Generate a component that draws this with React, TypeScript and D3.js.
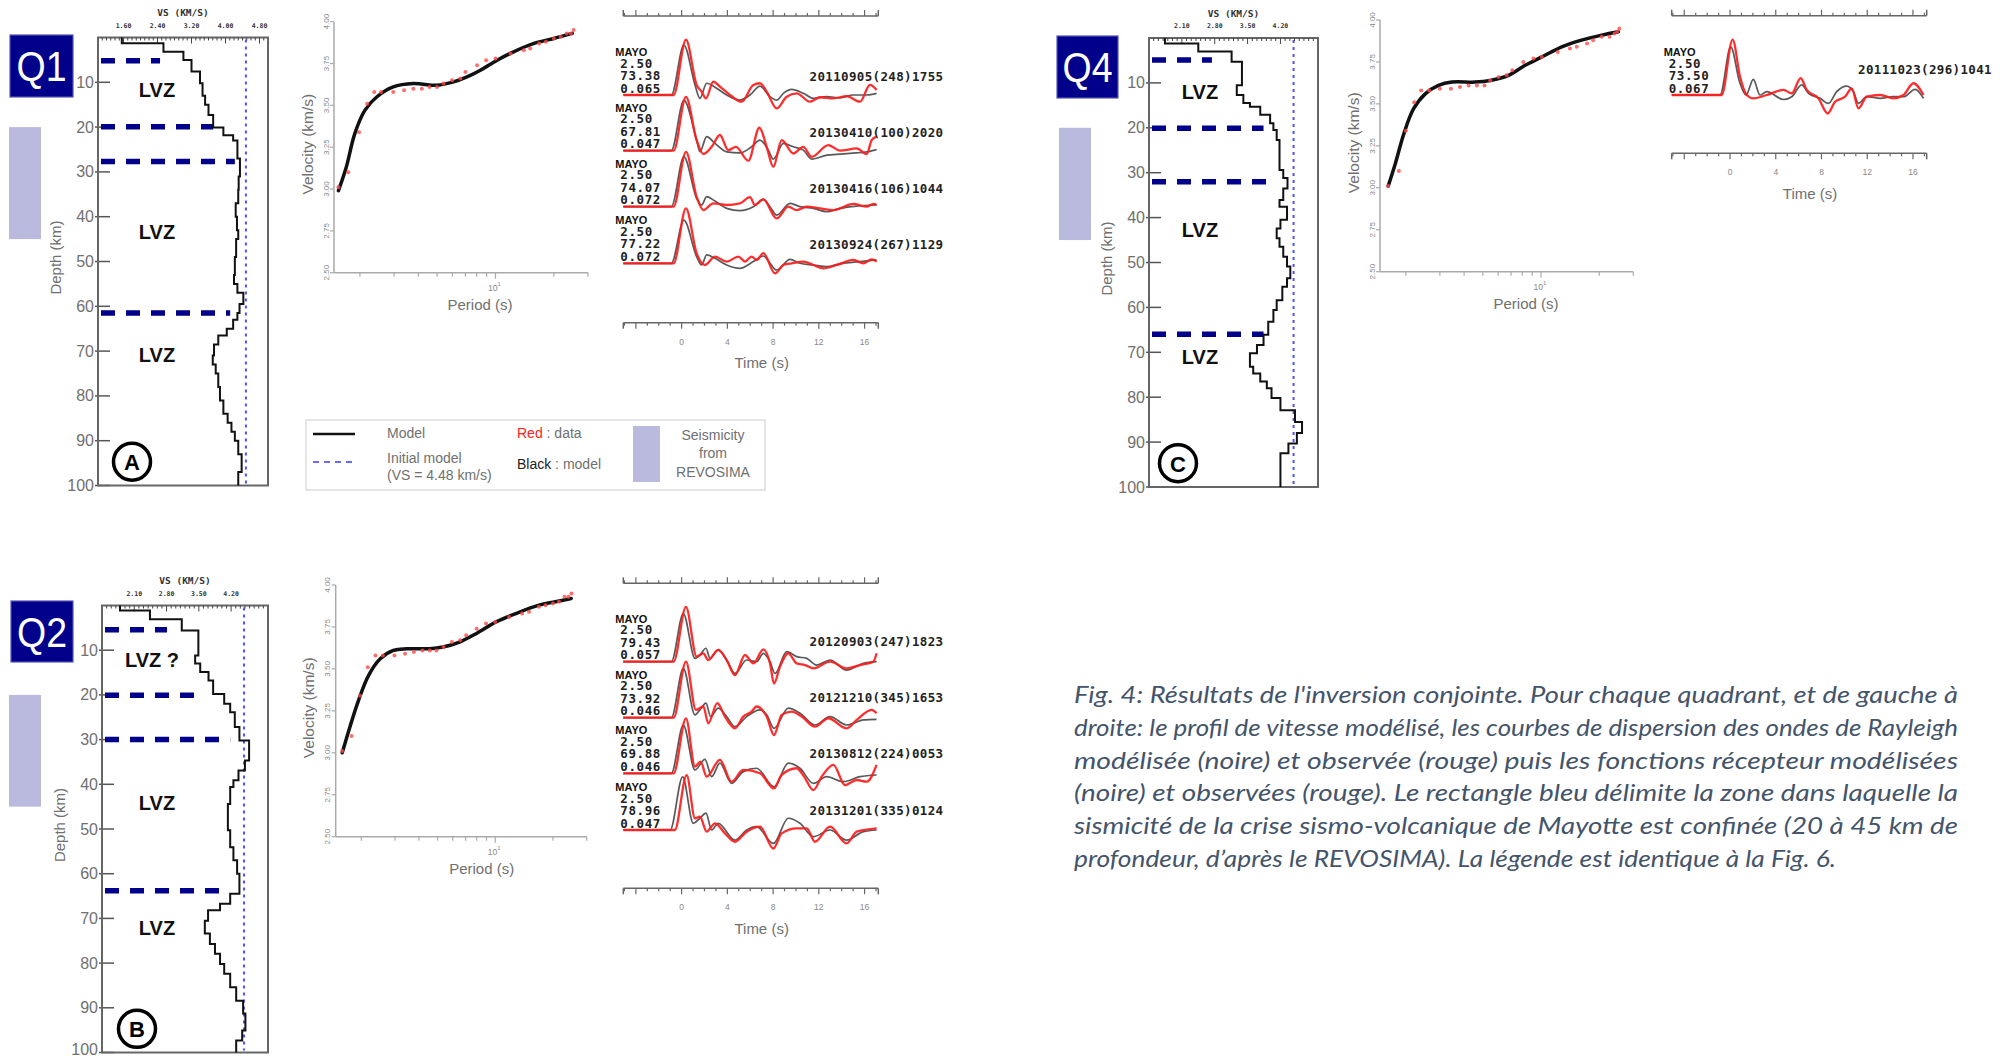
import React from "react";
import * as d3 from "d3";

// ---------------- DATA ----------------
const DEPTH_TICKS = [10, 20, 30, 40, 50, 60, 70, 80, 90, 100];
const VS_LABELS_Q1 = [1.6, 2.4, 3.2, 4.0, 4.8];
const VS_LABELS_Q24 = [2.1, 2.8, 3.5, 4.2];
const INITIAL_VS = 4.48;
const SEISMICITY = [20, 45];

const Q1_DEPTH = [0, 1.3, 3.2, 5, 7.6, 10.2, 13, 15, 17.3, 20.1, 21.8, 23, 27, 31, 34, 37, 40, 43, 45, 49, 53, 55, 57, 59.5, 61.5, 63, 65, 66.5, 68.5, 71, 73, 75, 78, 81, 84, 86, 88, 90, 93, 97];
const Q1_VS = [1.56, 2.54, 3.01, 3.2, 3.4, 3.46, 3.52, 3.6, 3.71, 3.95, 4.18, 4.28, 4.34, 4.31, 4.3, 4.24, 4.27, 4.3, 4.25, 4.22, 4.2, 4.28, 4.42, 4.33, 4.28, 4.18, 4.03, 3.83, 3.73, 3.7, 3.77, 3.83, 3.87, 3.95, 4.05, 4.14, 4.22, 4.3, 4.38, 4.3];
const Q2_DEPTH = [0, 1.1, 3.1, 5.6, 11.2, 13.0, 14.9, 16.8, 19.8, 22, 23.9, 27.2, 30.2, 34.7, 36.9, 39.1, 40.6, 44.4, 50.3, 54.1, 57, 60, 64.5, 66.7, 68.2, 70.5, 73.4, 75.7, 77.9, 80.2, 82.4, 85.4, 88.4, 91.3, 95.1, 97.3];
const Q2_VS = [1.79, 2.44, 3.13, 3.49, 3.42, 3.53, 3.71, 3.81, 4.05, 4.18, 4.28, 4.38, 4.59, 4.5, 4.36, 4.25, 4.18, 4.13, 4.18, 4.25, 4.33, 4.38, 4.18, 3.96, 3.7, 3.63, 3.74, 3.85, 3.96, 4.05, 4.18, 4.31, 4.46, 4.51, 4.44, 4.31];
const Q4_DEPTH = [0, 1.2, 3.0, 5.3, 10.5, 12.7, 14.5, 15.3, 17.1, 19, 20.5, 22.7, 29.4, 31.2, 33.5, 36.1, 37.6, 40.5, 42.4, 44.6, 46.5, 48.7, 50.9, 53.5, 55.4, 58.4, 60.6, 63.2, 66.1, 68.4, 70.2, 73.2, 74.7, 76.5, 78, 80.2, 82.9, 85.5, 88, 90.3, 92.5];
const Q4_VS = [1.74, 2.45, 3.16, 3.38, 3.27, 3.41, 3.55, 3.77, 3.98, 4.05, 4.12, 4.18, 4.26, 4.35, 4.26, 4.18, 4.34, 4.2, 4.12, 4.18, 4.26, 4.34, 4.41, 4.34, 4.24, 4.12, 4.05, 3.94, 3.84, 3.7, 3.55, 3.62, 3.77, 3.91, 4.01, 4.2, 4.51, 4.66, 4.55, 4.37, 4.2];

const Q1_LVZ_DEPTH = [5.2, 19.9, 27.7, 61.5];
const Q1_LVZ_END = [2.46, 3.71, 4.22, 4.11];
const Q2_LVZ_DEPTH = [5.4, 20.1, 30, 63.8];
const Q2_LVZ_END = [2.81, 3.59, 4.18, 4.13];
const Q4_LVZ_DEPTH = [4.9, 20.1, 32, 66];
const Q4_LVZ_END = [2.74, 3.84, 4.12, 3.84];
const Q1_LVZ_TEXT = ["LVZ", "LVZ", "LVZ"];
const Q1_LVZ_TEXT_DEPTH = [11.7, 43.4, 70.8];
const Q2_LVZ_TEXT = ["LVZ ?", "LVZ", "LVZ"];
const Q2_LVZ_TEXT_DEPTH = [12.2, 44.2, 72.1];
const Q4_LVZ_TEXT = ["LVZ", "LVZ", "LVZ"];
const Q4_LVZ_TEXT_DEPTH = [12.1, 42.8, 71.1];

const PERIOD_DOMAIN = [1.47, 30];
const PERIOD_TICKS = [2, 3, 4, 5, 6, 7, 8, 9, 10, 20, 30];
const VEL_TICKS = [2.5, 2.75, 3.0, 3.25, 3.5, 3.75, 4.0];

const Q1_MODEL_P = [1.55, 1.7, 1.88, 2.12, 2.44, 2.97, 3.77, 4.99, 6.08, 7.13, 8.36, 10.2, 12.4, 15.8, 20.0, 24.9];
const Q1_MODEL_V = [2.99, 3.13, 3.33, 3.47, 3.55, 3.61, 3.63, 3.62, 3.64, 3.67, 3.71, 3.77, 3.82, 3.87, 3.9, 3.93];
const Q1_DATA_P = [1.55, 1.74, 1.98, 2.18, 2.37, 2.57, 2.97, 3.38, 3.77, 4.17, 4.57, 4.99, 5.4, 5.97, 6.59, 7.0, 8.04, 8.95, 10, 11.96, 14.0, 15.1, 16.8, 18.2, 20.0, 21.7, 23.3, 24.5, 25.3];
const Q1_DATA_V = [3.01, 3.1, 3.34, 3.51, 3.58, 3.58, 3.58, 3.59, 3.6, 3.6, 3.61, 3.61, 3.63, 3.65, 3.66, 3.7, 3.74, 3.77, 3.78, 3.81, 3.83, 3.84, 3.87, 3.88, 3.9, 3.91, 3.93, 3.93, 3.95];
const Q2_MODEL_P = [1.59, 1.75, 1.93, 2.18, 2.51, 2.94, 3.45, 4.55, 5.33, 6.51, 7.94, 10.1, 12.8, 16.9, 20.6, 24.9];
const Q2_MODEL_V = [3.0, 3.16, 3.31, 3.46, 3.56, 3.61, 3.62, 3.62, 3.63, 3.66, 3.71, 3.78, 3.83, 3.88, 3.9, 3.92];
const Q2_DATA_P = [1.59, 1.78, 1.97, 2.16, 2.37, 2.59, 2.98, 3.38, 3.76, 4.17, 4.55, 4.93, 5.37, 5.94, 6.56, 7.05, 8.0, 8.95, 10, 11.8, 13.8, 15.0, 16.9, 18.3, 20.0, 21.5, 23.0, 24.1, 25.0];
const Q2_DATA_V = [3.01, 3.1, 3.34, 3.51, 3.58, 3.58, 3.58, 3.59, 3.6, 3.61, 3.61, 3.61, 3.63, 3.66, 3.67, 3.7, 3.74, 3.77, 3.78, 3.81, 3.83, 3.84, 3.87, 3.88, 3.89, 3.9, 3.93, 3.93, 3.95];
const Q4_MODEL_P = [1.62, 1.77, 1.95, 2.19, 2.52, 2.95, 3.46, 4.56, 5.46, 6.79, 8.28, 10.1, 12.8, 16.2, 20.6, 25.1];
const Q4_MODEL_V = [3.01, 3.15, 3.32, 3.47, 3.56, 3.61, 3.63, 3.63, 3.64, 3.67, 3.73, 3.78, 3.84, 3.88, 3.91, 3.93];
const Q4_DATA_P = [1.62, 1.84, 2.0, 2.21, 2.4, 2.64, 3.0, 3.42, 3.81, 4.22, 4.66, 5.1, 5.46, 6.03, 6.64, 7.1, 8.1, 9.14, 10.1, 12.2, 14.1, 15.3, 17.3, 18.6, 20.6, 22.6, 24.0, 24.8, 25.4];
const Q4_DATA_V = [3.01, 3.1, 3.34, 3.51, 3.58, 3.58, 3.59, 3.59, 3.6, 3.61, 3.61, 3.61, 3.64, 3.66, 3.67, 3.7, 3.75, 3.77, 3.78, 3.81, 3.83, 3.84, 3.86, 3.88, 3.9, 3.9, 3.92, 3.93, 3.95];

const TIME_DOMAIN = [-5.1, 17.2];
const TIME_LABELS = [0, 4, 8, 12, 16];

const Q1_RF_RED = [
  [[-5.1, 0], [-0.7, 0], [0.38, 0.99], [1.31, 0.18], [1.75, 0.06], [2.13, -0.06], [2.77, 0.24], [3.35, 0.15], [4.23, 0], [5.25, -0.12], [6.27, 0.18], [6.85, 0.21], [7.44, 0.06], [8.31, -0.24], [9.19, -0.03], [10.06, 0.03], [11.23, -0.12], [12.1, -0.04], [13.27, -0.06], [14.43, -0.02], [15.6, -0.12], [16.47, 0.18], [17.05, 0.09]],
  [[-5.1, 0], [-0.7, 0], [0.38, 0.96], [1.31, 0.19], [1.9, -0.06], [2.63, 0.07], [3.35, 0.28], [4.08, 0.01], [4.75, 0.07], [5.83, -0.18], [6.8, 0.41], [7.44, 0.07], [8.02, -0.29], [8.75, 0.19], [9.77, -0.05], [10.64, 0.07], [11.37, -0.11], [12.83, 0.1], [13.86, 0], [15.31, 0.04], [16.19, -0.06], [16.62, 0.19], [17.05, 0.25]],
  [[-5.1, 0], [-0.7, 0], [0.38, 0.98], [1.31, 0.18], [1.9, -0.06], [2.77, 0.06], [3.94, 0.03], [5.1, 0.06], [5.98, 0.17], [6.41, 0.03], [7.15, 0.13], [8.31, -0.21], [9.33, 0], [10.06, -0.06], [10.94, 0], [12.1, -0.03], [13.27, -0.06], [15.02, 0.05], [16.19, 0], [16.77, 0.05], [17.05, 0.03]],
  [[-5.1, 0], [-0.7, 0], [0.38, 0.98], [1.31, 0.18], [2.04, -0.03], [2.92, 0.12], [3.94, 0.03], [4.96, 0.12], [5.54, 0.03], [6.12, 0.12], [6.56, 0.06], [7.15, 0.18], [8.17, -0.18], [8.9, -0.03], [9.62, 0], [10.64, 0.03], [11.52, -0.03], [12.4, -0.09], [13.56, -0.03], [15.02, 0.06], [15.89, 0], [16.62, 0.07], [17.05, 0.03]],
];
const Q1_RF_BLACK = [
  [[-5.1, 0], [-0.9, 0], [0.2, 0.89], [1.17, 0.18], [1.6, -0.06], [2.19, 0.21], [2.92, 0.14], [3.94, 0], [5.1, -0.09], [5.98, 0], [6.85, 0.16], [7.73, -0.03], [8.31, -0.09], [8.9, 0.03], [9.62, 0.1], [10.64, 0.03], [11.52, -0.06], [12.69, -0.03], [13.86, -0.05], [15.02, 0], [16.19, 0], [17.05, 0.03]],
  [[-5.1, 0], [-0.9, 0], [0.2, 0.9], [1.31, 0.19], [1.6, -0.02], [2.19, 0.25], [2.92, 0.13], [3.94, -0.02], [5.1, -0.04], [6.12, 0.07], [6.85, 0.19], [7.58, 0.01], [8.02, -0.15], [8.9, 0.13], [9.77, 0.07], [10.64, 0.01], [11.37, -0.15], [12.69, -0.08], [13.86, -0.06], [15.31, -0.04], [16.19, -0.02], [17.05, 0.02]],
  [[-5.1, 0], [-0.9, 0], [0.2, 0.89], [1.31, 0.15], [1.75, 0.03], [2.19, 0.18], [2.92, 0.1], [3.94, -0.03], [5.1, -0.07], [6.27, 0], [7.15, 0.13], [7.73, 0], [8.31, -0.15], [9.48, 0.06], [10.35, 0], [11.52, -0.03], [12.69, -0.09], [13.86, -0.03], [15.31, 0.01], [17.05, 0.03]],
  [[-5.1, 0], [-0.9, 0], [0.2, 0.77], [1.31, 0.12], [1.75, -0.03], [2.19, 0.15], [2.92, 0.09], [3.94, -0.03], [5.1, -0.09], [6.27, 0.03], [7.15, 0.13], [7.73, 0], [8.31, -0.12], [9.48, 0.07], [10.35, 0], [11.52, -0.03], [12.69, -0.06], [13.86, -0.01], [15.6, 0.03], [17.05, 0.06]],
];
const Q2_RF_RED = [
  [[-5.1, 0], [-0.7, 0], [0.38, 0.98], [1.31, 0.09], [1.9, 0.15], [2.33, 0.03], [3.2, 0.21], [3.94, 0.03], [4.66, -0.24], [5.54, 0.12], [6.27, -0.03], [7.15, 0.22], [7.73, -0.03], [8.08, -0.39], [8.6, -0.09], [9.33, 0.15], [10.06, -0.03], [10.79, -0.06], [11.52, -0.12], [12.98, 0], [14.43, -0.12], [15.6, -0.06], [16.77, 0], [17.05, 0.15]],
  [[-5.1, 0], [-0.7, 0], [0.38, 1.0], [1.25, 0.14], [1.9, 0.2], [2.33, -0.1], [3.12, 0.26], [3.79, 0.02], [4.66, -0.19], [5.39, 0.02], [6.12, 0.11], [6.56, 0.2], [7.44, 0.02], [8.08, -0.31], [8.75, 0.05], [9.62, 0.11], [10.5, 0.02], [11.66, -0.16], [12.83, -0.01], [14.43, -0.19], [15.31, -0.04], [16.62, 0.14], [17.05, 0.08]],
  [[-5.1, 0], [-0.7, 0], [0.38, 0.98], [1.17, 0.12], [1.66, 0.21], [2.19, -0.06], [3.35, 0.24], [4.37, -0.15], [5.39, 0.06], [6.85, 0], [8.08, -0.27], [8.75, -0.03], [10.06, 0.09], [10.71, -0.06], [11.52, -0.3], [12.25, -0.06], [13.27, 0.15], [14.29, -0.21], [15.31, -0.12], [16.19, -0.15], [17.05, 0.15]],
  [[-5.1, 0], [-0.6, 0], [0.44, 0.98], [1.17, 0.21], [1.6, 0.24], [2.19, -0.03], [2.92, 0.12], [3.79, -0.06], [4.66, -0.21], [5.69, -0.03], [6.85, 0.06], [8.02, -0.33], [8.75, -0.06], [10.06, 0.03], [10.94, 0.03], [11.66, -0.21], [12.98, 0.06], [14.43, -0.24], [15.31, -0.03], [17.05, 0.03]],
];
const Q2_RF_BLACK = [
  [[-5.1, 0], [-0.9, 0], [0.15, 0.86], [1.17, 0.06], [1.6, 0.12], [2.13, 0.24], [2.48, 0.06], [3.2, 0.21], [3.94, 0.03], [4.66, -0.21], [5.69, 0.03], [6.56, 0], [7.15, 0.15], [7.73, 0], [8.17, -0.21], [9.19, 0.18], [10.06, 0.09], [10.94, 0.06], [11.81, -0.06], [12.98, 0.03], [14.43, -0.15], [15.89, -0.03], [17.05, 0]],
  [[-5.1, 0], [-0.9, 0], [0.15, 0.88], [1.17, 0.05], [1.6, 0.14], [2.13, 0.26], [2.54, 0.02], [3.2, 0.17], [3.94, 0.02], [4.66, -0.16], [5.69, 0.02], [6.85, 0.14], [7.44, 0.05], [8.08, -0.19], [9.33, 0.17], [10.35, 0.08], [11.66, -0.13], [12.98, 0.02], [14.43, -0.13], [15.89, -0.04], [17.05, -0.03]],
  [[-5.1, 0], [-0.9, 0], [0.15, 0.86], [1.17, 0.06], [2.04, 0.25], [2.63, -0.06], [3.35, 0.18], [4.37, -0.18], [5.39, 0.03], [6.56, 0.09], [8.08, -0.24], [9.33, 0.18], [10.35, 0.09], [11.52, -0.18], [12.69, -0.06], [14.14, -0.15], [15.6, -0.06], [17.05, -0.03]],
  [[-5.1, 0], [-1.0, 0], [0.09, 0.95], [1.02, 0.12], [1.6, 0.21], [2.13, 0.3], [2.63, 0], [3.2, 0.12], [4.66, -0.18], [5.69, 0], [6.56, 0.06], [8.02, -0.24], [9.33, 0.21], [10.35, 0.12], [11.52, -0.12], [12.98, 0], [14.43, -0.18], [15.89, -0.03], [17.05, 0]],
];
const Q4_RF_RED = [
  [[-5.1, 0], [-0.73, 0], [0.23, 0.99], [0.87, 0.33], [1.46, 0], [2.04, -0.06], [3.21, 0], [4.67, 0.09], [5.4, 0.03], [6.18, 0.3], [6.71, 0.09], [7.73, -0.06], [8.54, -0.33], [9.19, -0.12], [10.06, -0.03], [10.65, 0.12], [11.23, -0.24], [11.96, -0.03], [13.13, 0], [14.29, -0.06], [15.17, 0], [16.04, 0.21], [16.92, 0]],
];
const Q4_RF_BLACK = [
  [[-5.1, 0], [-0.87, 0], [0.06, 0.86], [0.87, 0.21], [1.4, 0], [2.04, 0.28], [2.62, 0], [3.21, 0.06], [4.67, -0.08], [5.4, -0.03], [6.27, 0.18], [6.86, 0.03], [7.88, -0.06], [8.6, -0.15], [9.33, 0.06], [10.2, 0.16], [10.79, 0.06], [11.23, -0.15], [11.96, -0.03], [13.13, -0.06], [14.29, -0.03], [15.17, -0.03], [16.19, 0.1], [16.92, -0.06]],
];
const STATION = "MAYO";
const RF_GAUSS = "2.50";
const Q1_RF_INFO = [["73.38", "0.065", "20110905(248)1755"], ["67.81", "0.047", "20130410(100)2020"], ["74.07", "0.072", "20130416(106)1044"], ["77.22", "0.072", "20130924(267)1129"]];
const Q2_RF_INFO = [["79.43", "0.057", "20120903(247)1823"], ["73.92", "0.046", "20121210(345)1653"], ["69.88", "0.046", "20130812(224)0053"], ["78.96", "0.047", "20131201(335)0124"]];
const Q4_RF_INFO = [["73.50", "0.067", "20111023(296)1041"]];

const CAPTION_LINES = [
  "Fig. 4: Résultats de l'inversion conjointe. Pour chaque quadrant, et de gauche à",
  "droite: le profil de vitesse modélisé, les courbes de dispersion des ondes de Rayleigh",
  "modélisée (noire) et observée (rouge) puis les fonctions récepteur modélisées",
  "(noire) et observées (rouge). Le rectangle bleu délimite la zone dans laquelle la",
  "sismicité de la crise sismo-volcanique de Mayotte est confinée (20 à 45 km de",
  "profondeur, d’après le REVOSIMA). La légende est identique à la Fig. 6.",
];

// ---------------- STYLE ----------------
const W = 2009;
const H = 1056;
const FONT = "'Liberation Sans', Arial, sans-serif";
const MONO = "'DejaVu Sans Mono', monospace";
const GRAY = "#707070";
const NAVY = "#00008b";
const LAVENDER = "#babade";
const RED = "#ff1c1c";
const DARK = "#3c3c3c";

const zip = (a: number[], b: number[]) => a.map((v, i) => [v, b[i]]);

function Profile({ c }: any) {
  const x = d3.scaleLinear().domain(c.domain).range([c.left, c.right]);
  const y = d3.scaleLinear().domain([0, 100]).range([c.top, c.bottom]);
  const pts: number[][] = [];
  c.depth.forEach((d: number, i: number) => {
    const next = i + 1 < c.depth.length ? c.depth[i + 1] : 100;
    pts.push([c.vs[i], d], [c.vs[i], next]);
  });
  const path = d3.line<any>().x((p) => x(p[0])).y((p) => y(p[1]))(pts as any);
  const minor = d3
    .range(Math.ceil(c.domain[0] * 10 + 1e-6), Math.floor(c.domain[1] * 10 - 1e-6) + 1)
    .map((v) => v / 10);
  const isMajor = (v: number) => c.labels.some((l: number) => Math.abs(l - v) < 1e-6);
  const midX = (c.left + c.right) / 2;
  const [bx, by, bw, bh] = c.badge;
  return (
    <g>
      <rect x={bx} y={by} width={bw} height={bh} fill={NAVY} stroke="#5454b4" strokeWidth={1.2} />
      <text x={bx + bw / 2} y={by + bh / 2 + 15} textAnchor="middle" fill="#fff" fontFamily={FONT} fontSize={42} textLength={50} lengthAdjust="spacingAndGlyphs">
        {c.name}
      </text>
      <rect x={c.seisX[0]} width={c.seisX[1] - c.seisX[0]} y={y(SEISMICITY[0])} height={y(SEISMICITY[1]) - y(SEISMICITY[0])} fill={LAVENDER} />
      <text transform={`translate(${c.left - 43},${(c.top + c.bottom) / 2 - 4}) rotate(-90)`} textAnchor="middle" dominantBaseline="central" fontFamily={FONT} fontSize={15} fill={GRAY}>
        Depth (km)
      </text>
      {DEPTH_TICKS.map((d) => (
        <g key={d}>
          <line x1={c.left - 3} x2={c.left + 12} y1={y(d)} y2={y(d)} stroke="#555" strokeWidth={1.5} />
          <text x={c.left - 4} y={Math.min(y(d), H - 7)} textAnchor="end" dominantBaseline="central" fontFamily={FONT} fontSize={16} fill={GRAY}>
            {d}
          </text>
        </g>
      ))}
      <rect x={c.left} y={c.top} width={c.right - c.left} height={c.bottom - c.top} fill="none" stroke="#666" strokeWidth={2} />
      {minor.map((v) => (
        <line key={v} x1={x(v)} x2={x(v)} y1={c.top} y2={c.top + (isMajor(v) ? 6 : 3)} stroke="#444" strokeWidth={1} />
      ))}
      {c.labels.map((v: number) => (
        <text key={v} x={x(v)} y={c.top - 12} textAnchor="middle" dominantBaseline="central" fontFamily={MONO} fontWeight="bold" fontSize={6.5} fill="#333">
          {v.toFixed(2)}
        </text>
      ))}
      <text x={midX} y={c.top - 25} textAnchor="middle" dominantBaseline="central" fontFamily={MONO} fontWeight="bold" fontSize={9.5} fill="#333">
        VS (KM/S)
      </text>
      <line x1={x(INITIAL_VS)} x2={x(INITIAL_VS)} y1={c.top + 2} y2={c.bottom - 2} stroke="#5050ff" strokeWidth={2} strokeDasharray="3 4" />
      {c.lvzDepth.map((d: number, i: number) => (
        <line key={i} x1={c.left + 3} x2={x(c.lvzEnd[i])} y1={y(d)} y2={y(d)} stroke={NAVY} strokeWidth={5.5} strokeDasharray="14 11" />
      ))}
      <path d={path || ""} fill="none" stroke="#111" strokeWidth={2} />
      {c.lvzText.map((t: string, i: number) => (
        <text key={i} x={c.left + c.lvzDx[i]} y={y(c.lvzTextDepth[i])} textAnchor="middle" dominantBaseline="central" fontFamily={FONT} fontWeight="bold" fontSize={20} fill="#111">
          {t}
        </text>
      ))}
      <circle cx={c.left + c.circleDx} cy={y(94.7)} r={18.5} fill="#fff" stroke="#000" strokeWidth={3.5} />
      <text x={c.left + c.circleDx} y={y(94.7) + 1} textAnchor="middle" dominantBaseline="central" fontFamily={FONT} fontWeight="bold" fontSize={22} fill="#000">
        {c.letter}
      </text>
    </g>
  );
}

function Dispersion({ c }: any) {
  const x = d3.scaleLog().domain(PERIOD_DOMAIN).range([c.left, c.right]);
  const y = d3.scaleLinear().domain([2.5, 4.0]).range([c.bottom, c.top]);
  const line = d3.line<any>().x((p) => x(p[0])).y((p) => y(p[1])).curve(d3.curveCatmullRom.alpha(0.5));
  const model = zip(c.modelP, c.modelV);
  const data = zip(c.dataP, c.dataV);
  return (
    <g>
      <line x1={c.left} x2={c.left} y1={c.top} y2={c.bottom} stroke="#aaa" strokeWidth={1.5} />
      <line x1={c.left} x2={c.right} y1={c.bottom} y2={c.bottom} stroke="#aaa" strokeWidth={1.5} />
      {VEL_TICKS.map((v) => (
        <g key={v}>
          <line x1={c.left - 4} x2={c.left} y1={y(v)} y2={y(v)} stroke="#aaa" strokeWidth={1.2} />
          <text transform={`translate(${c.left - 8},${y(v)}) rotate(-90)`} textAnchor="middle" dominantBaseline="central" fontFamily={FONT} fontSize={8} fill="#888">
            {v.toFixed(2)}
          </text>
        </g>
      ))}
      {PERIOD_TICKS.map((p) => (
        <line key={p} x1={x(p)} x2={x(p)} y1={c.bottom} y2={c.bottom + (p === 10 ? 6 : 4)} stroke="#aaa" strokeWidth={1.2} />
      ))}
      <text x={x(10) - 1} y={c.bottom + 15} textAnchor="middle" dominantBaseline="central" fontFamily={FONT} fontSize={8.5} fill="#888">
        10<tspan dy={-4} fontSize={6}>1</tspan>
      </text>
      <text x={c.left + 146} y={c.bottom + 32} textAnchor="middle" dominantBaseline="central" fontFamily={FONT} fontSize={15} fill={GRAY}>
        Period (s)
      </text>
      <text transform={`translate(${c.left - 27},${(c.top + c.bottom) / 2 - 3}) rotate(-90)`} textAnchor="middle" dominantBaseline="central" fontFamily={FONT} fontSize={15.5} fill={GRAY}>
        Velocity (km/s)
      </text>
      <path d={line(model as any) || ""} fill="none" stroke="#111" strokeWidth={3.5} strokeLinecap="round" />
      {data.map((d, i) => (
        <circle key={i} cx={x(d[0])} cy={y(d[1])} r={2} fill="#ff4a4a" opacity={0.8} />
      ))}
    </g>
  );
}

function ReceiverFunctions({ c }: any) {
  const x = d3.scaleLinear().domain(TIME_DOMAIN).range([c.x0, c.x1]);
  const amp = d3.scaleLinear().domain([0, 1]).range([0, -56]);
  const ticks = d3.range(-5, 18);
  const major = (t: number) => t % 4 === 0;
  const x0 = x(0);
  return (
    <g>
      <line x1={c.x0} x2={c.x1} y1={c.topY} y2={c.topY} stroke="#666" strokeWidth={1.5} />
      {[TIME_DOMAIN[0], TIME_DOMAIN[1]].map((t, i) => (
        <line key={"e" + i} x1={x(t)} x2={x(t)} y1={c.topY} y2={c.topY - 6} stroke="#666" strokeWidth={1.5} />
      ))}
      {ticks.map((t) => (
        <line key={t} x1={x(t)} x2={x(t)} y1={c.topY} y2={c.topY - (major(t) ? 6 : 3)} stroke="#666" strokeWidth={1.2} />
      ))}
      <line x1={c.x0} x2={c.x1} y1={c.botY} y2={c.botY} stroke="#666" strokeWidth={1.5} />
      {[TIME_DOMAIN[0], TIME_DOMAIN[1]].map((t, i) => (
        <line key={"b" + i} x1={x(t)} x2={x(t)} y1={c.botY} y2={c.botY + 6} stroke="#666" strokeWidth={1.5} />
      ))}
      {ticks.map((t) => (
        <line key={"b" + t} x1={x(t)} x2={x(t)} y1={c.botY} y2={c.botY + (major(t) ? 6 : 3)} stroke="#666" strokeWidth={1.2} />
      ))}
      {TIME_LABELS.map((t) => (
        <text key={t} x={x(t)} y={c.botY + 19} textAnchor="middle" dominantBaseline="central" fontFamily={FONT} fontSize={8.5} fill="#888">
          {t}
        </text>
      ))}
      <text x={x(7)} y={c.botY + 40} textAnchor="middle" dominantBaseline="central" fontFamily={FONT} fontSize={15} fill={GRAY}>
        Time (s)
      </text>
      {c.red.map((tr: number[][], i: number) => {
        const base = c.baselines[i];
        const line = d3.line<any>().x((p) => x(p[0])).y((p) => base + amp(p[1])).curve(d3.curveMonotoneX);
        const info = c.info[i];
        return (
          <g key={i}>
            <path d={line(c.black[i] as any) || ""} fill="none" stroke={DARK} strokeWidth={1.7} opacity={0.85} />
            <path d={line(tr as any) || ""} fill="none" stroke={RED} strokeWidth={2.3} opacity={0.92} />
            <text x={c.x0 - 8} y={base - 43} dominantBaseline="central" fontFamily={FONT} fontWeight="bold" fontSize={11} fill="#111">
              {STATION}
            </text>
            {[RF_GAUSS, info[0], info[1]].map((s: string, k: number) => (
              <text key={k} x={c.x0 - 3} y={base - 32 + k * 12.6} dominantBaseline="central" fontFamily={MONO} fontWeight="bold" fontSize={12.5} fill="#222" letterSpacing={0.6}>
                {s}
              </text>
            ))}
            <text x={x0 + 128} y={base + c.dateDy} dominantBaseline="central" fontFamily={MONO} fontWeight="bold" fontSize={12.5} fill="#222" letterSpacing={0.35}>
              {info[2]}
            </text>
          </g>
        );
      })}
    </g>
  );
}

function Legend() {
  return (
    <g fontFamily={FONT} fontSize={14} fill={GRAY}>
      <rect x={306} y={420} width={459} height={70} fill="#fff" stroke="#d4d4d4" strokeWidth={1.2} />
      <line x1={313} x2={355} y1={434} y2={434} stroke="#111" strokeWidth={2.5} />
      <line x1={313} x2={355} y1={462} y2={462} stroke="#3a3aff" strokeWidth={1.5} strokeDasharray="6 5" />
      <text x={387} y={433} dominantBaseline="central">Model</text>
      <text x={387} y={458} dominantBaseline="central">Initial model</text>
      <text x={387} y={475} dominantBaseline="central">(VS = 4.48 km/s)</text>
      <text x={517} y={433} dominantBaseline="central">
        <tspan fill="#ff2020">Red</tspan> : data
      </text>
      <text x={517} y={464} dominantBaseline="central">
        <tspan fill="#222">Black</tspan> : model
      </text>
      <rect x={633} y={426} width={27} height={56} fill={LAVENDER} />
      <text x={713} y={435} textAnchor="middle" dominantBaseline="central">Seismicity</text>
      <text x={713} y={453} textAnchor="middle" dominantBaseline="central">from</text>
      <text x={713} y={472} textAnchor="middle" dominantBaseline="central">REVOSIMA</text>
    </g>
  );
}

function Caption() {
  return (
    <g fontFamily="Lato, 'Open Sans', sans-serif" fontStyle="italic" fontSize={24} fill="#44546a">
      {CAPTION_LINES.map((t, i) => (
        <text key={i} x={1074} y={703 + i * 32.8} textLength={i < CAPTION_LINES.length - 1 ? 884 : 762} lengthAdjust="spacingAndGlyphs">
          {t}
        </text>
      ))}
    </g>
  );
}

const PROFILES = [
  { name: "Q1", letter: "A", left: 98, right: 268, top: 37.5, bottom: 485.5, domain: [1.0, 5.0], labels: VS_LABELS_Q1, depth: Q1_DEPTH, vs: Q1_VS, lvzDepth: Q1_LVZ_DEPTH, lvzEnd: Q1_LVZ_END, lvzText: Q1_LVZ_TEXT, lvzTextDepth: Q1_LVZ_TEXT_DEPTH, lvzDx: [59, 59, 59], circleDx: 34, badge: [10, 35, 63, 62], seisX: [9, 41] },
  { name: "Q2", letter: "B", left: 102, right: 268, top: 605.5, bottom: 1052.5, domain: [1.4, 5.0], labels: VS_LABELS_Q24, depth: Q2_DEPTH, vs: Q2_VS, lvzDepth: Q2_LVZ_DEPTH, lvzEnd: Q2_LVZ_END, lvzText: Q2_LVZ_TEXT, lvzTextDepth: Q2_LVZ_TEXT_DEPTH, lvzDx: [50, 55, 55], circleDx: 35, badge: [11, 601, 62, 61], seisX: [9, 41] },
  { name: "Q4", letter: "C", left: 1149, right: 1318, top: 38, bottom: 487, domain: [1.4, 5.0], labels: VS_LABELS_Q24, depth: Q4_DEPTH, vs: Q4_VS, lvzDepth: Q4_LVZ_DEPTH, lvzEnd: Q4_LVZ_END, lvzText: Q4_LVZ_TEXT, lvzTextDepth: Q4_LVZ_TEXT_DEPTH, lvzDx: [51, 51, 51], circleDx: 29, badge: [1057, 36, 61, 62], seisX: [1059, 1091] },
];

const DISPERSIONS = [
  { left: 334, right: 588, top: 21.7, bottom: 272.7, modelP: Q1_MODEL_P, modelV: Q1_MODEL_V, dataP: Q1_DATA_P, dataV: Q1_DATA_V },
  { left: 335.7, right: 586.7, top: 585, bottom: 836.7, modelP: Q2_MODEL_P, modelV: Q2_MODEL_V, dataP: Q2_DATA_P, dataV: Q2_DATA_V },
  { left: 1380, right: 1633.3, top: 20, bottom: 271.7, modelP: Q4_MODEL_P, modelV: Q4_MODEL_V, dataP: Q4_DATA_P, dataV: Q4_DATA_V },
];

const RFS = [
  { x0: 623.3, x1: 878.3, topY: 16, botY: 322.7, baselines: [95, 150.7, 206.7, 263.3], red: Q1_RF_RED, black: Q1_RF_BLACK, info: Q1_RF_INFO, dateDy: -18.5 },
  { x0: 623.3, x1: 878.3, topY: 583.3, botY: 888.3, baselines: [661.7, 717.7, 773.3, 830], red: Q2_RF_RED, black: Q2_RF_BLACK, info: Q2_RF_INFO, dateDy: -20 },
  { x0: 1671.7, x1: 1926.7, topY: 15.7, botY: 153.3, baselines: [95], red: Q4_RF_RED, black: Q4_RF_BLACK, info: Q4_RF_INFO, dateDy: -25.7 },
];

export default function App() {
  return (
    <svg width={W} height={H} viewBox={`0 0 ${W} ${H}`} style={{ position: "absolute", left: 0, top: 0, display: "block", background: "#fff" }}>
      <rect x={0} y={0} width={W} height={H} fill="#fff" />
      {PROFILES.map((c, i) => (
        <Profile key={i} c={c} />
      ))}
      {DISPERSIONS.map((c, i) => (
        <Dispersion key={i} c={c} />
      ))}
      {RFS.map((c, i) => (
        <ReceiverFunctions key={i} c={c} />
      ))}
      <Legend />
      <Caption />
    </svg>
  );
}
